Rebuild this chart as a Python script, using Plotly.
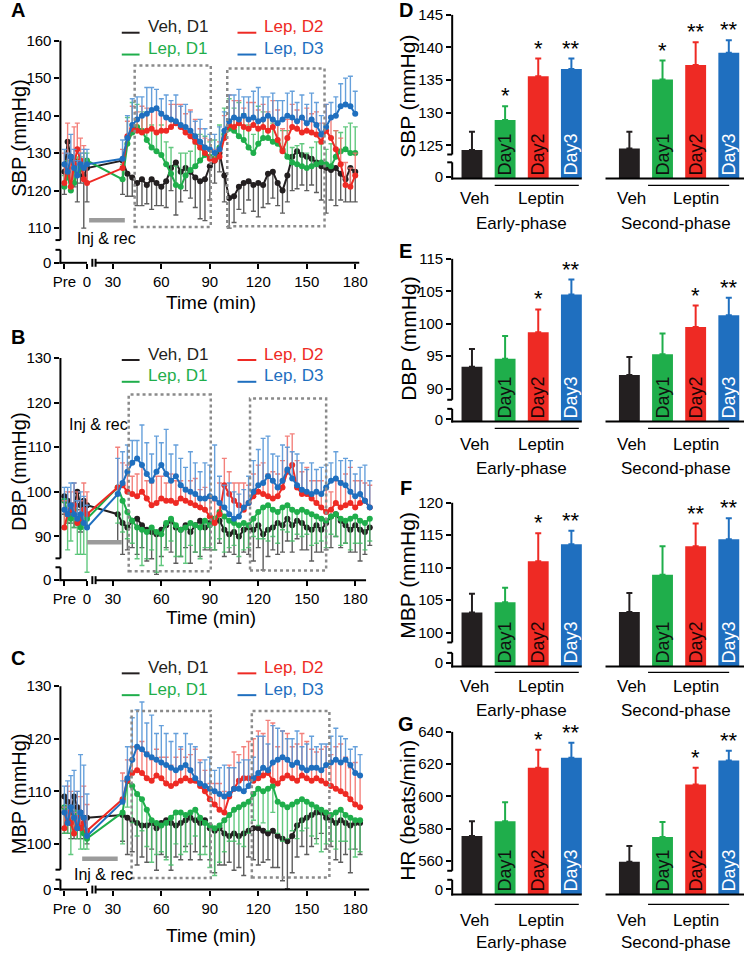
import plotly.graph_objects as go

W, H = 745, 961
FONT = "Liberation Sans, Arial, Helvetica, sans-serif"

COL = {"veh": "#231f20", "d1": "#1fae4b", "d2": "#ee2a24", "d3": "#1f6fbf"}
ECOL = {"veh": "rgba(75,75,75,0.9)", "d1": "rgba(70,190,105,0.85)",
        "d2": "rgba(242,115,110,0.9)", "d3": "rgba(85,150,215,0.9)"}
NAMES = {"veh": "Veh, D1", "d1": "Lep, D1", "d2": "Lep, D2", "d3": "Lep, D3"}
ORDER = ["veh", "d1", "d2", "d3"]

# ---------------- time-course data ----------------
PRE_T = [-14, -12, -10, -8, -6, -4, -2, 0]      # pre-injection samples (min)
T_A = list(range(36, 181, 3))
T_B = list(range(33, 190, 3))
T_C = list(range(36, 184, 3))

# A : SBP
SBP_VEH_PRE = [125, 133, 129, 128, 126, 127, 124, 126]
SBP_VEH_PRE_SEM = [6, 5, 8, 7, 9, 5, 14, 9]
SBP_VEH = [128, 124.5, 123.5, 122, 123, 121.5, 123, 122, 121, 122.5, 126, 127.5, 125, 126, 125, 123.5, 122.5, 123, 126.5, 128,
           130, 124, 118, 118.5, 121, 122, 122.5, 121.5, 122, 121.5, 124.5, 125, 122, 120, 124, 129, 130.5, 129.5, 129, 128.5,
           127.5, 126.5, 126, 125.5, 126, 124.5, 123, 126, 125]
SBP_VEH_SEM = [9, 6, 5, 6, 7, 5, 8, 6, 5, 7, 6, 14, 8, 6, 7, 8, 10, 11, 9, 6, 5, 7, 8, 7, 6, 8, 5, 7, 9, 6,
               8, 7, 6, 6, 7, 9, 10, 8, 9, 7, 8, 9, 12, 8, 10, 7, 6, 9, 8]
SBP_D1_PRE = [121, 124, 120, 122, 125, 126, 127, 128]
SBP_D1_PRE_SEM = [3, 4, 3, 5, 4, 3, 3, 2]
SBP_D1 = [123, 132.5, 135.5, 137, 136, 133.5, 131.5, 130.5, 129.5, 127, 124.5, 121.5, 121, 124, 125.5, 126.5, 128, 129.5, 129, 128.5,
          131.5, 135, 136.5, 136, 134.5, 133.5, 131.5, 130, 132.5, 134, 134, 133, 132.5, 131, 129, 127.5, 127, 126.5, 126, 126.5,
          127, 127.5, 127, 126.5, 129, 130.5, 131, 130, 130]
SBP_D1_SEM = [4, 7, 8, 6, 5, 7, 6, 5, 8, 6, 7, 5, 9, 6, 5, 6, 7, 5, 4, 5, 6, 7, 8, 6, 9, 7, 6, 5, 10, 7,
              6, 5, 6, 5, 7, 4, 5, 6, 4, 5, 6, 5, 4, 6, 7, 5, 6, 8, 7]
SBP_D2_PRE = [122, 126, 121, 127, 131, 128, 123, 122]
SBP_D2_PRE_SEM = [8, 12, 7, 10, 7, 6, 9, 5]
SBP_D2 = [126, 134.5, 136.5, 136, 135.5, 136, 136.5, 135.5, 136, 136, 137, 138, 137, 135.5, 134.5, 133, 131.5, 130, 128.5, 128,
          129, 134, 137.5, 137, 138, 137, 136.5, 137.5, 136.5, 137, 136, 137, 133.5, 130.5, 134, 137, 136.5, 135.5, 136, 135.5,
          135, 133, 136, 134, 131, 127, 121.5, 121, 124]
SBP_D2_SEM = [5, 4, 6, 5, 7, 6, 5, 6, 5, 4, 6, 5, 6, 5, 7, 6, 5, 4, 5, 3, 4, 6, 8, 7, 6, 5, 7, 6, 5, 6,
              5, 7, 8, 6, 5, 6, 5, 4, 6, 5, 6, 5, 7, 6, 5, 7, 6, 5, 6]
SBP_D3_PRE = [127, 125, 129, 126, 124, 127, 126, 127]
SBP_D3_PRE_SEM = [4, 5, 6, 5, 4, 3, 5, 4]
SBP_D3 = [128.5, 134, 137.5, 139, 140, 140.5, 141.5, 142, 140.5, 139.5, 139, 138.5, 137.5, 137, 136, 134.5, 133, 131.5, 131, 130,
          131, 136, 138.5, 139.5, 139, 140, 139, 139.5, 138.5, 139, 140, 139, 138, 139, 140, 139.5, 138.5, 139.5, 138, 139,
          137.5, 135, 137, 139.5, 140, 142.5, 143, 142.5, 140.5]
SBP_D3_SEM = [5, 6, 7, 6, 5, 7, 6, 5, 4, 6, 5, 7, 5, 6, 5, 4, 6, 5, 4, 5, 6, 5, 7, 6, 8, 5, 6, 7, 9, 6,
              5, 7, 6, 5, 6, 7, 5, 6, 5, 7, 6, 5, 6, 4, 5, 6, 7, 8, 6]

# B : DBP
DBP_VEH_PRE = [99, 98, 96, 97, 100, 97, 98, 97]
DBP_VEH_PRE_SEM = [4, 5, 3, 5, 4, 6, 4, 5]
DBP_VEH = [95, 93, 92, 93.5, 94, 92.5, 91.5, 91, 90.5, 91.5, 92.5, 93.5, 92, 91.5, 92.5, 91, 92.5, 93.5, 92, 93,
           94, 93.5, 91.5, 90.5, 91, 90, 91.5, 92, 91.5, 92.5, 90.5, 91.5, 92, 93, 92.5, 94, 92.5, 93.5, 93, 92,
           91.5, 92.5, 91.5, 93, 94.5, 95, 93.5, 92.5, 91.5, 92.5, 91.5, 91, 92]
DBP_VEH_SEM = [6, 7, 5, 6, 8, 5, 7, 6, 9, 6, 5, 7, 8, 6, 5, 7, 6, 8, 5, 6, 7, 5, 6, 4, 5, 6, 5, 6, 7, 5,
               8, 6, 5, 7, 6, 5, 6, 4, 6, 5, 7, 6, 5, 6, 7, 5, 6, 4, 5, 6, 7, 5, 4]
DBP_D1_PRE = [98, 95, 94, 96, 93, 92, 95, 94]
DBP_D1_PRE_SEM = [6, 8, 5, 4, 7, 6, 9, 12]
DBP_D1 = [101, 98, 95.5, 93.5, 92, 91.5, 91, 92, 91, 90.5, 93, 94, 92.5, 91.5, 92, 93, 92.5, 92, 93.5, 92.5,
          94, 95.5, 94.5, 93.5, 93, 92.5, 93, 92.5, 94, 95.5, 96.5, 97, 96, 95.5, 96.5, 97, 96, 95.5, 96, 95.5,
          95, 94.5, 94, 93.5, 94.5, 95, 94, 93.5, 94, 94.5, 93.5, 93, 94]
DBP_D1_SEM = [8, 7, 6, 5, 7, 8, 6, 5, 9, 7, 6, 5, 7, 6, 8, 5, 6, 7, 6, 5, 7, 6, 8, 6, 5, 7, 6, 5, 4, 6,
              7, 8, 6, 7, 5, 6, 7, 5, 6, 5, 7, 6, 5, 6, 4, 5, 6, 5, 7, 6, 5, 6, 5]
DBP_D2_PRE = [92, 95, 96, 97, 93, 94, 96, 95]
DBP_D2_PRE_SEM = [6, 5, 4, 5, 7, 4, 6, 5]
DBP_D2 = [101, 101.5, 100, 99.5, 99, 100, 98.5, 97, 97.5, 98.5, 98, 98, 97.5, 98.5, 98, 97.5, 97, 96.5, 96, 94.5,
          93, 95, 101.5, 99.5, 98, 97, 96, 97.5, 99, 100, 99.5, 99, 98.5, 99, 101, 104.5, 106, 101, 99.5, 99.5,
          98.5, 97.5, 96.5, 95.5, 96, 97.5, 96.5, 97, 97.5, 96.5, 97.5, 98, 96.5]
DBP_D2_SEM = [9, 5, 6, 4, 5, 6, 4, 5, 6, 5, 4, 6, 5, 4, 3, 5, 6, 4, 5, 4, 5, 7, 6, 5, 4, 5, 6, 4, 5, 6,
              7, 5, 6, 5, 6, 8, 7, 6, 5, 6, 4, 5, 6, 5, 4, 5, 6, 7, 8, 6, 5, 4, 5]
DBP_D3_PRE = [96, 95, 97, 95, 94, 95, 93, 92]
DBP_D3_PRE_SEM = [5, 6, 5, 7, 4, 5, 6, 5]
DBP_D3 = [99.5, 102, 104.5, 106.5, 107.5, 106, 104, 102.5, 104.5, 106, 104, 102.5, 103.5, 101.5, 100.5, 100, 99.5, 98.5, 98.5, 99,
          98.5, 97.5, 96.5, 95, 94, 94.5, 96.5, 97.5, 100, 101.5, 102, 103.5, 102.5, 101, 102.5, 105, 103, 101.5, 100.5, 100,
          99.5, 100, 99.5, 101, 102.5, 103, 102, 101.5, 100, 99, 99.5, 98, 96.5]
DBP_D3_SEM = [8, 7, 6, 5, 4, 9, 7, 6, 8, 5, 10, 6, 7, 6, 5, 9, 7, 6, 8, 7, 12, 6, 5, 7, 6, 5, 4, 6, 7, 8,
              10, 9, 6, 7, 8, 5, 6, 7, 6, 5, 7, 5, 6, 5, 4, 6, 5, 6, 7, 5, 6, 8, 6]

# C : MBP
MBP_VEH_PRE = [109, 108, 106, 109, 107, 106, 105, 105]
MBP_VEH_PRE_SEM = [7, 6, 5, 8, 6, 5, 4, 5]
MBP_VEH = [105.5, 105, 104.5, 104, 103.5, 103.5, 104, 103, 104, 104.5, 104, 103.5, 104, 104.5, 105, 104.5, 104, 104.5, 103, 102.5,
           103, 102, 101.5, 102, 101.5, 102, 102.5, 103, 103, 102.5, 102, 102.5, 101.5, 101, 100.5, 101.5, 103.5, 104.5, 105, 105.5,
           106, 106, 105, 104.5, 104, 104.5, 104, 103.5, 104, 104]
MBP_VEH_SEM = [5, 7, 6, 8, 6, 7, 5, 8, 6, 7, 9, 6, 7, 5, 8, 6, 7, 5, 6, 8, 7, 6, 5, 7, 6, 8, 5, 6, 7, 6,
               5, 7, 6, 8, 9, 7, 6, 5, 7, 6, 5, 4, 6, 5, 7, 8, 6, 9, 5, 6]
MBP_D1_PRE = [107, 106, 104, 105, 106, 103, 102, 101]
MBP_D1_PRE_SEM = [5, 4, 6, 3, 5, 4, 3, 2]
MBP_D1 = [106, 112, 111, 109.5, 108.5, 106.5, 104.5, 104, 103.5, 104, 105, 106, 106, 105.5, 106, 106.5, 105, 104, 103.5, 103,
          103.5, 104.5, 105.5, 106.5, 107, 107.5, 108, 109.5, 110.5, 110, 110.5, 111, 108, 107.5, 107, 107.5, 108, 108.5, 108, 107.5,
          107, 106.5, 106, 105.5, 106, 106.5, 105.5, 105, 104.5, 104.5]
MBP_D1_SEM = [6, 5, 7, 8, 6, 7, 8, 6, 5, 7, 9, 6, 8, 7, 6, 5, 7, 6, 8, 9, 7, 6, 5, 6, 7, 8, 6, 5, 7, 6,
              8, 5, 6, 7, 6, 5, 7, 6, 5, 6, 7, 8, 6, 5, 7, 6, 5, 6, 7, 6]
MBP_D2_PRE = [103, 106, 104, 102, 105, 103, 104, 102.5]
MBP_D2_PRE_SEM = [4, 5, 6, 4, 5, 6, 7, 5]
MBP_D2 = [108.5, 112, 113.5, 114, 113.5, 112.5, 112, 113, 112.5, 111.5, 111, 111.5, 112, 112.5, 112, 112, 111, 110, 108.5, 107.5,
          106.5, 106, 109, 110.5, 112, 112.5, 112.5, 112, 112.5, 113, 113.5, 112, 111.5, 112.5, 113, 112.5, 112, 113, 112.5, 112,
          112.5, 112, 111.5, 111, 110.5, 110, 109.5, 108.5, 107.5, 107]
MBP_D2_SEM = [5, 4, 5, 4, 6, 5, 4, 5, 4, 5, 4, 5, 6, 4, 5, 6, 5, 4, 3, 4, 5, 4, 6, 7, 5, 6, 7, 8, 9, 8,
              10, 11, 7, 9, 8, 6, 7, 8, 7, 6, 5, 6, 7, 6, 8, 9, 7, 6, 8, 6]
MBP_D3_PRE = [106, 104, 107, 105, 103, 106, 105, 101.5]
MBP_D3_PRE_SEM = [5, 8, 6, 9, 7, 11, 10, 8]
MBP_D3 = [108, 112.5, 116, 118.5, 118, 117, 116.5, 116, 115.5, 115, 114.5, 114, 114.5, 115, 114, 112.5, 111.5, 111, 110.5, 110,
          109.5, 109, 109.5, 110.5, 110.5, 110, 111, 112.5, 113.5, 114.5, 114, 115.5, 116, 116.5, 116, 115, 115.5, 114.5, 114, 114.5,
          114.5, 114, 115, 115.5, 116, 115.5, 116, 115, 113.5, 113]
MBP_D3_SEM = [4, 6, 8, 7, 9, 6, 8, 5, 7, 6, 5, 7, 4, 6, 5, 6, 4, 5, 6, 4, 5, 6, 5, 4, 5, 6, 5, 4, 7, 6,
              5, 7, 6, 5, 4, 5, 6, 4, 5, 6, 4, 5, 4, 5, 6, 5, 4, 3, 5, 4]

TIME_TICKS = ["Pre", "0", "30", "60", "90", "120", "150", "180"]

# ---------------- bar data (mean, SEM, significance) ----------------
CONDITIONS = ["Veh", "Day1", "Day2", "Day3"]
SBP_EARLY = [124.3, 128.9, 135.6, 136.7]
SBP_EARLY_SEM = [2.8, 2.1, 2.7, 1.6]
SBP_EARLY_SIG = ["", "*", "*", "**"]
SBP_SECOND = [124.5, 135.1, 137.3, 139.2]
SBP_SECOND_SEM = [2.6, 2.9, 3.5, 1.9]
SBP_SECOND_SIG = ["", "*", "**", "**"]
DBP_EARLY = [93.4, 94.6, 98.7, 104.5]
DBP_EARLY_SEM = [2.7, 3.5, 3.5, 2.3]
DBP_EARLY_SIG = ["", "", "*", "**"]
DBP_SECOND = [92.1, 95.3, 99.5, 101.3]
DBP_SECOND_SEM = [2.8, 3.2, 3.3, 2.7]
DBP_SECOND_SIG = ["", "", "*", "**"]
MBP_EARLY = [103.1, 104.7, 111.0, 113.6]
MBP_EARLY_SEM = [2.9, 2.2, 4.3, 2.1]
MBP_EARLY_SIG = ["", "", "*", "**"]
MBP_SECOND = [103.2, 108.9, 113.3, 114.4]
MBP_SECOND_SEM = [2.9, 4.4, 3.5, 3.2]
MBP_SECOND_SIG = ["", "", "**", "**"]
HR_EARLY = [575.4, 584.6, 617.8, 624.0]
HR_EARLY_SEM = [9.2, 11.7, 11.1, 9.2]
HR_EARLY_SIG = ["", "", "*", "**"]
HR_SECOND = [559.4, 574.8, 607.4, 622.2]
HR_SECOND_SEM = [9.8, 9.2, 10.4, 6.1]
HR_SECOND_SIG = ["", "", "*", "**"]

# ---------------- helpers ----------------
fig = go.Figure()
shapes, annots = [], []
layout = dict(width=W, height=H, margin=dict(l=0, r=0, t=0, b=0), autosize=False,
              paper_bgcolor="white", plot_bgcolor="white", showlegend=False,
              barmode="overlay", font=dict(family=FONT, color="black"),
              uniformtext=dict(mode="show", minsize=17))


def pline(x0, y0, x1, y1, width=2, color="black", dash=None):
    shapes.append(dict(type="line", xref="paper", yref="paper", x0=x0 / W, y0=1 - y0 / H,
                       x1=x1 / W, y1=1 - y1 / H, line=dict(color=color, width=width, dash=dash)))


def ptext(x, y, text, size=15, color="black", xanchor="center", yanchor="middle", angle=0, bold=False):
    annots.append(dict(xref="paper", yref="paper", x=x / W, y=1 - y / H,
                       text=f"<b>{text}</b>" if bold else text, showarrow=False,
                       xanchor=xanchor, yanchor=yanchor, textangle=angle,
                       font=dict(size=size, color=color, family=FONT)))


# ---- left (time course) panels ----
XL0, XL1 = 53, 370
X0PX = 57
PXM = 245 / 150
PRE_SHIFT = 14
XR = [(XL0 - X0PX) / PXM, (XL1 - X0PX) / PXM]


def xpx(d):
    return X0PX + d * PXM


def left_panel(i, letter, letter_y, ydom, yr, yticks, up, low, ytitle, ytitle_y, time_y, xend,
               boxes, injbar, inj_xy, leg_top, T, series, directions):
    sfx = "" if i == 1 else str(i)
    xa, ya = "x" + sfx, "y" + sfx
    top, bot = ydom

    def ypx(v):
        return bot - (v - yr[0]) / (yr[1] - yr[0]) * (bot - top)

    layout["xaxis" + sfx] = dict(domain=[XL0 / W, XL1 / W], range=XR, anchor=ya,
                                 tickvals=[0, PRE_SHIFT, 30, 60, 90, 120, 150, 180], ticktext=TIME_TICKS,
                                 ticks="outside", ticklen=5, tickwidth=2, tickcolor="black",
                                 showline=False, showgrid=False, zeroline=False,
                                 tickfont=dict(size=15, family=FONT))
    layout["yaxis" + sfx] = dict(domain=[1 - bot / H, 1 - top / H], range=yr, anchor=xa,
                                 tickvals=[yr[0] + 0.02] + yticks, ticktext=["0"] + [str(v) for v in yticks],
                                 ticks="outside", ticklen=5, tickwidth=2, tickcolor="black",
                                 showline=False, showgrid=False, zeroline=False,
                                 tickfont=dict(size=15, family=FONT))
    for key in ORDER:
        pre, pre_e, main, main_e = series[key]
        xs = [t + PRE_SHIFT for t in PRE_T] + list(T)
        ys = list(pre) + list(main)
        es = list(pre_e) + list(main_e)
        zeros = [0] * len(es)
        upward = directions[key] == "up"
        fig.add_trace(go.Scatter(
            x=xs, y=ys, mode="lines+markers", name=NAMES[key],
            line=dict(color=COL[key], width=2),
            marker=dict(color=COL[key], size=6),
            error_y=dict(type="data", symmetric=False,
                         array=es if upward else zeros,
                         arrayminus=zeros if upward else es,
                         color=ECOL[key], thickness=1.4, width=2.5),
            xaxis=xa, yaxis=ya, showlegend=False))
    # dotted windows
    for (t0, t1, v0, v1) in boxes:
        shapes.append(dict(type="rect", xref=xa, yref=ya, x0=t0, x1=t1, y0=v0, y1=v1,
                           line=dict(color="#8a8a8a", width=2.5, dash="dot")))
    # injection & recovery bar
    shapes.append(dict(type="line", xref=xa, yref=ya, x0=injbar[0], x1=injbar[1], y0=injbar[2], y1=injbar[2],
                       line=dict(color="#9b9b9b", width=4.5)))
    ptext(inj_xy[0], inj_xy[1], "Inj & rec", 16)
    # broken axes
    pline(XL0, ypx(yticks[-1]), XL0, ypx(up[0]))
    pline(XL0 - 5, ypx(up[0]), XL0, ypx(up[0]))
    pline(XL0 - 5, ypx(low[1]), XL0, ypx(low[1]))
    pline(XL0, ypx(low[1]), XL0, bot + 1)
    pline(XL0 - 1, bot, xpx(PRE_SHIFT), bot)
    pline(xpx(17.3), bot - 4, xpx(17.3), bot + 4)
    pline(xpx(19.3), bot - 4, xpx(19.3), bot + 4)
    pline(xpx(19.3), bot, xpx(xend), bot)
    # titles
    ptext(11, ytitle_y, ytitle, 20, angle=-90)
    ptext(205, time_y, "Time (min)", 19)
    ptext(10, letter_y, letter, 20, bold=True)
    # legend
    pos = {"veh": (0, 0), "d2": (1, 0), "d1": (0, 1), "d3": (1, 1)}
    for key in ORDER:
        c, r = pos[key]
        dx0, dx1, tx = (115, 133, 139) if c == 0 else (232, 251, 257)
        ty = leg_top + 22 * r
        pline(dx0, ty + 6, dx1, ty + 6, width=2, color=COL[key])
        ptext(tx, ty, NAMES[key], 17, color=COL[key], xanchor="left")


left_panel(1, "A", 10, (20, 265), [100.74, 165.56], [110, 120, 130, 140, 150, 160], (106.8, 160), (100.74, 104.2),
           "SBP (mmHg)", 139, 305, 182.5,
           [(43.5, 90.6, 110.3, 153.4), (100.8, 161, 110.5, 152.6)], (15.3, 37.4, 112.1), (100, 241), 27, T_A,
           {"veh": (SBP_VEH_PRE, SBP_VEH_PRE_SEM, SBP_VEH, SBP_VEH_SEM),
            "d1": (SBP_D1_PRE, SBP_D1_PRE_SEM, SBP_D1, SBP_D1_SEM),
            "d2": (SBP_D2_PRE, SBP_D2_PRE_SEM, SBP_D2, SBP_D2_SEM),
            "d3": (SBP_D3_PRE, SBP_D3_PRE_SEM, SBP_D3, SBP_D3_SEM)},
           {"veh": "down", "d1": "up", "d2": "up", "d3": "up"})

left_panel(2, "B", 340, (340, 585), [80.22, 134.67], [90, 100, 110, 120, 130], (85.1, 130), (80.22, 83.1),
           "DBP (mmHg)", 475, 623, 186.7,
           [(39.8, 90.6, 82.2, 121.8), (114.9, 162, 82.4, 120.9)], (14, 35.5, 88.7), (91, 428), 357, T_B,
           {"veh": (DBP_VEH_PRE, DBP_VEH_PRE_SEM, DBP_VEH, DBP_VEH_SEM),
            "d1": (DBP_D1_PRE, DBP_D1_PRE_SEM, DBP_D1, DBP_D1_SEM),
            "d2": (DBP_D2_PRE, DBP_D2_PRE_SEM, DBP_D2, DBP_D2_SEM),
            "d3": (DBP_D3_PRE, DBP_D3_PRE_SEM, DBP_D3, DBP_D3_SEM)},
           {"veh": "down", "d1": "down", "d2": "up", "d3": "up"})

left_panel(3, "C", 664, (660, 897), [91.32, 136.04], [100, 110, 120, 130], (95.1, 130), (91.32, 93.2),
           "MBP (mmHg)", 800, 943, 188.6,
           [(41.6, 90.6, 93.5, 125.3), (116, 164, 93.6, 125.3)], (11, 33, 97.2), (97, 882), 673, T_C,
           {"veh": (MBP_VEH_PRE, MBP_VEH_PRE_SEM, MBP_VEH, MBP_VEH_SEM),
            "d1": (MBP_D1_PRE, MBP_D1_PRE_SEM, MBP_D1, MBP_D1_SEM),
            "d2": (MBP_D2_PRE, MBP_D2_PRE_SEM, MBP_D2, MBP_D2_SEM),
            "d3": (MBP_D3_PRE, MBP_D3_PRE_SEM, MBP_D3, MBP_D3_SEM)},
           {"veh": "down", "d1": "down", "d2": "up", "d3": "up"})

# ---- right (bar) panels ----
XR0, XR1 = 449, 745
C0PX, SLOT = 469, 33.5
GROUP_OFFSET = [0, 4.75]
BAR_W = 0.63
RXR = [(XR0 - C0PX) / SLOT, (XR1 - C0PX) / SLOT]
BAR_COL = [COL["veh"], COL["d1"], COL["d2"], COL["d3"]]
TXT_COL = ["#111111", "#111111", "#1a0505", "#ffffff"]


def right_panel(i, letter, ydom, yr, yticks, ytext, zero, up, low, ytitle, ytitle_y, letter_y,
                lab_y, phase_y, ul_y, groups):
    sfx = str(i)
    xa, ya = "x" + sfx, "y" + sfx
    top, bot = ydom

    def ypx(v):
        return bot - (v - yr[0]) / (yr[1] - yr[0]) * (bot - top)

    layout["xaxis" + sfx] = dict(domain=[XR0 / W, XR1 / W], range=RXR, anchor=ya, showticklabels=False,
                                 ticks="", showline=False, showgrid=False, zeroline=False)
    layout["yaxis" + sfx] = dict(domain=[1 - bot / H, 1 - top / H], range=yr, anchor=xa,
                                 tickvals=[zero] + yticks, ticktext=["0"] + ytext,
                                 ticks="outside", ticklen=5, tickwidth=2, tickcolor="black",
                                 showline=False, showgrid=False, zeroline=False,
                                 tickfont=dict(size=15, family=FONT))
    base = yr[0]
    for g, (vals, sems, sigs) in enumerate(groups):
        for k in range(4):
            pos = GROUP_OFFSET[g] + k
            fig.add_trace(go.Bar(
                x=[pos], y=[vals[k] - base], base=[base], width=BAR_W,
                marker=dict(color=BAR_COL[k], line=dict(width=0)),
                error_y=dict(type="data", symmetric=False, array=[sems[k]], arrayminus=[0],
                             color=BAR_COL[k], thickness=2, width=3),
                text=["" if k == 0 else CONDITIONS[k]], textposition="inside",
                insidetextanchor="start", textangle=-90,
                textfont=dict(color=TXT_COL[k], size=18, family=FONT),
                xaxis=xa, yaxis=ya, showlegend=False))
            if sigs[k]:
                annots.append(dict(xref=xa, yref=ya, x=pos, y=vals[k] + sems[k], text=sigs[k],
                                   showarrow=False, xanchor="center", yanchor="bottom", yshift=-4,
                                   font=dict(size=22, family=FONT, color="black")))
    # broken y axis
    pline(XR0, ypx(yticks[-1]), XR0, ypx(up[0]))
    pline(XR0 - 5, ypx(up[0]), XR0, ypx(up[0]))
    pline(XR0 - 5, ypx(low[1]), XR0, ypx(low[1]))
    pline(XR0, ypx(low[1]), XR0, bot + 1)
    # baselines
    pline(XR0 - 1, bot, 580, bot)
    pline(604, bot, 744, bot)
    # group labels
    pline(492, ul_y, 577, ul_y, width=1.2)
    pline(647, ul_y, 729, ul_y, width=1.2)
    ptext(472, lab_y, "Veh", 17)
    ptext(539, lab_y, "Leptin", 17)
    ptext(630, lab_y, "Veh", 17)
    ptext(695, lab_y, "Leptin", 17)
    ptext(519, phase_y, "Early-phase", 17)
    ptext(675, phase_y, "Second-phase", 17)
    ptext(404, ytitle_y, ytitle, 21, angle=-90)
    ptext(402, letter_y, letter, 20, bold=True)


right_panel(4, "D", (5, 180), [119.92, 146.52], [125, 130, 135, 140, 145], ["125", "130", "135", "140", "145"],
            120.2, (123.6, 145), (119.92, 122.4), "SBP (mmHg)", 97, 10, 200, 225, 187,
            [(SBP_EARLY, SBP_EARLY_SEM, SBP_EARLY_SIG), (SBP_SECOND, SBP_SECOND_SEM, SBP_SECOND_SIG)])
right_panel(5, "E", (245, 425), [84.96, 112.44], [90, 95, 100, 105, 110], ["90", "95", "100", "105", "115"],
            85.3, (88.3, 110), (84.96, 86.9), "DBP (mmHg)", 342, 253, 448, 472, 432,
            [(DBP_EARLY, DBP_EARLY_SEM, DBP_EARLY_SIG), (DBP_SECOND, DBP_SECOND_SEM, DBP_SECOND_SIG)])
right_panel(6, "F", (487, 672), [94.81, 123.05], [100, 105, 110, 115, 120], ["100", "105", "110", "115", "120"],
            95.3, (98.5, 120), (94.81, 96.9), "MBP (mmHg)", 580, 492, 692, 716, 678,
            [(MBP_EARLY, MBP_EARLY_SEM, MBP_EARLY_SIG), (MBP_SECOND, MBP_SECOND_SEM, MBP_SECOND_SIG)])
right_panel(7, "G", (725, 902), [539.08, 648], [560, 580, 600, 620, 640], ["560", "580", "600", "620", "640"],
            542.2, (553.8, 640), (539.08, 548.2), "HR (beats/min)", 817, 730, 928, 950, 912,
            [(HR_EARLY, HR_EARLY_SEM, HR_EARLY_SIG), (HR_SECOND, HR_SECOND_SEM, HR_SECOND_SIG)])

layout["shapes"] = shapes
layout["annotations"] = annots
fig.update_layout(**layout)
fig.write_html("out.html", config={"displayModeBar": False},
               post_script="document.body.style.margin='0';document.body.style.overflow='hidden';")
